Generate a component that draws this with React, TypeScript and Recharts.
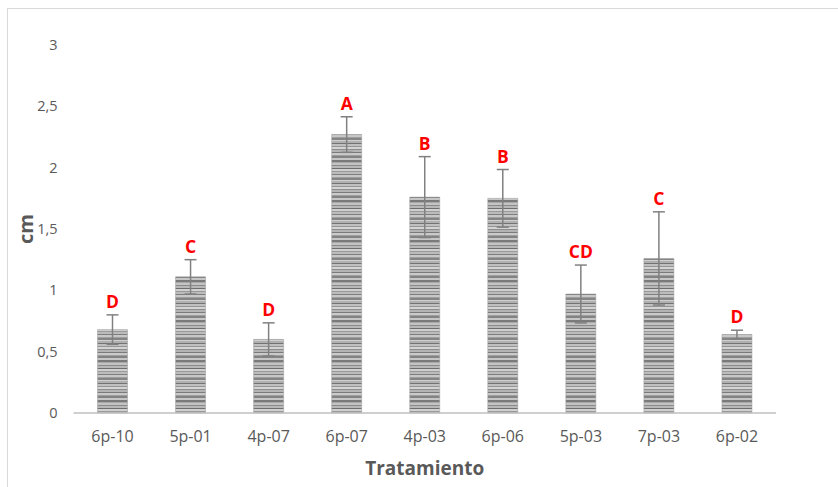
import React from 'react';
import { BarChart, Bar, XAxis, YAxis, ErrorBar, LabelList, Label } from 'recharts';

const categories = ['6p-10', '5p-01', '4p-07', '6p-07', '4p-03', '6p-06', '5p-03', '7p-03', '6p-02'];
const means = [0.68, 1.11, 0.6, 2.27, 1.76, 1.75, 0.97, 1.26, 0.64];
const errors = [0.12, 0.14, 0.135, 0.145, 0.33, 0.235, 0.236, 0.38, 0.035];
const letters = ['D', 'C', 'D', 'A', 'B', 'B', 'CD', 'C', 'D'];
const yTicks = [0, 0.5, 1, 1.5, 2, 2.5, 3];

const data = categories.map((c, i) => ({ name: c, value: means[i], err: errors[i], letter: letters[i] }));

// stripe styling for the bar texture: [offset, height, colour]
const stripes: [number, number, string][] = [
  [0, 2, '#7a7a7a'], [2, 1, '#a8a8a8'], [3, 2, '#c4c4c4'], [5, 1, '#8a8a8a'], [6, 2, '#b8b8b8'],
  [8, 1, '#6e6e6e'], [9, 2, '#d0d0d0'], [11, 1, '#9a9a9a'], [12, 2, '#bcbcbc'], [14, 1, '#7e7e7e'],
  [15, 2, '#c8c8c8'], [17, 1, '#a0a0a0'], [18, 2, '#858585'], [20, 1, '#cfcfcf'], [21, 2, '#b0b0b0'],
  [23, 1, '#737373'], [24, 2, '#c0c0c0'], [26, 1, '#959595'], [27, 2, '#d4d4d4'], [29, 1, '#8c8c8c'],
  [30, 2, '#b4b4b4'], [32, 1, '#7a7a7a'], [33, 2, '#cacaca'], [35, 1, '#9e9e9e'], [36, 2, '#838383'],
  [38, 2, '#c6c6c6'],
];

const FONT = '"Open Sans", "Noto Sans", sans-serif';

const LetterLabel = (props: any) => {
  const { x, y, width, height, index, value } = props;
  const v = means[index];
  const e = errors[index];
  const pxPerUnit = v ? height / v : 0;
  const top = y - e * pxPerUnit;
  return (
    <text x={x + width / 2} y={top - 7} textAnchor="middle" fill="#ff0000" fontFamily={FONT} fontWeight={700} fontSize={17.5}>
      {value}
    </text>
  );
};

export default function App() {
  return (
    <div style={{ position: 'absolute', left: 0, top: 0, width: 838, height: 487, background: '#ffffff' }}>
      <div style={{ position: 'absolute', left: 7, top: 8, right: 0, bottom: 0, borderLeft: '1px solid #d9d9d9', borderTop: '1px solid #d9d9d9' }} />
      <div style={{ position: 'absolute', left: 0, top: 0 }}>
        <BarChart width={838} height={487} data={data} margin={{ top: 45, right: 62, bottom: 0, left: 0 }} barSize={30}>
          <defs>
            <pattern id="stripes" patternUnits="userSpaceOnUse" x="0" y="0" width="40" height="40">
              {stripes.map(([o, h, c], i) => (
                <rect key={i} x={0} y={o} width={40} height={h} fill={c} />
              ))}
            </pattern>
          </defs>
          <XAxis
            dataKey="name"
            height={74}
            tickLine={false}
            tickSize={0}
            tickMargin={18}
            axisLine={{ stroke: '#bfbfbf', strokeWidth: 1.5 }}
            tick={{ fill: '#595959', fontSize: 16, fontFamily: FONT }}
            interval={0}
          >
            <Label value="Tratamiento" position="insideBottom" offset={12} fill="#595959" fontSize={19} fontWeight={700} fontFamily={FONT} />
          </XAxis>
          <YAxis
            width={73.5}
            domain={[0, 3]}
            ticks={yTicks}
            axisLine={false}
            tickLine={false}
            tickSize={0}
            tickMargin={16}
            tick={{ fill: '#595959', fontSize: 14.5, fontFamily: FONT }}
            tickFormatter={(v: number) => String(v).replace('.', ',')}
            label={{
              content: () => (
                <text x={33} y={229} transform="rotate(-90 33 229)" textAnchor="middle" fill="#595959" fontFamily={FONT} fontWeight={700} fontSize={20}>
                  cm
                </text>
              ),
            }}
          />
          <Bar dataKey="value" fill="url(#stripes)" stroke="#9a9a9a" strokeWidth={0.5} isAnimationActive={false}>
            <ErrorBar dataKey="err" width={6} stroke="#808080" strokeWidth={1.5} direction="y" />
            <LabelList dataKey="letter" content={LetterLabel} />
          </Bar>
        </BarChart>
      </div>
    </div>
  );
}
